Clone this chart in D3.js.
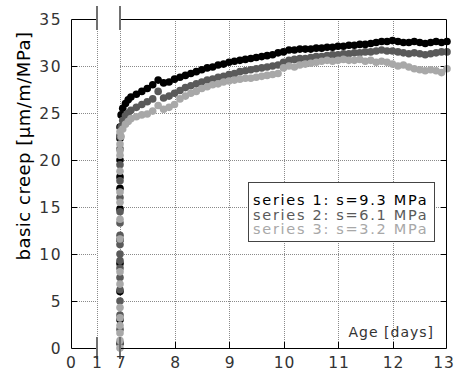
<!DOCTYPE html>
<html>
<head>
<meta charset="utf-8">
<script src="https://cdn.jsdelivr.net/npm/d3@7"></script>
<style>
  body { margin: 0; background: #fff; }
  svg text { font-family: "DejaVu Sans", Verdana, sans-serif; }
</style>
</head>
<body>
<svg id="chart" width="457" height="376"></svg>
<script>
// creep phase sampling (days)
var ageDays = [7.0, 7.02, 7.05, 7.1, 7.15, 7.2, 7.3, 7.4, 7.5, 7.6, 7.7, 7.8, 7.9,
  8.0, 8.1, 8.2, 8.3, 8.4, 8.5, 8.6, 8.7, 8.8, 8.9,
  9.0, 9.1, 9.2, 9.3, 9.4, 9.5, 9.6, 9.7, 9.8, 9.9,
  10.0, 10.1, 10.2, 10.3, 10.4, 10.5, 10.6, 10.7, 10.8, 10.9,
  11.0, 11.1, 11.2, 11.3, 11.4, 11.5, 11.6, 11.7, 11.8, 11.9,
  12.0, 12.1, 12.2, 12.3, 12.4, 12.5, 12.6, 12.7, 12.8, 12.9, 13.0];

var series1 = [23.5, 24.8, 25.5, 26.0, 26.4, 26.7, 27.0, 27.3, 27.6, 28.0, 28.5, 28.2, 28.3,
  28.6, 28.8, 29.0, 29.2, 29.4, 29.6, 29.8, 29.9, 30.1, 30.2,
  30.4, 30.5, 30.6, 30.7, 30.8, 30.9, 31.0, 31.1, 31.2, 31.4,
  31.5, 31.7, 31.7, 31.8, 31.8, 31.8, 31.9, 31.9, 32.0, 32.0,
  32.1, 32.1, 32.2, 32.2, 32.3, 32.3, 32.4, 32.5, 32.6, 32.6,
  32.7, 32.6, 32.5, 32.5, 32.6, 32.5, 32.4, 32.5, 32.6, 32.5, 32.6];

var series2 = [22.5, 23.5, 24.2, 24.7, 25.0, 25.3, 25.6, 25.9, 26.2, 26.5, 27.3, 26.6, 26.8,
  27.1, 27.4, 27.7, 27.9, 28.1, 28.3, 28.5, 28.6, 28.8, 28.9,
  29.1, 29.2, 29.4, 29.5, 29.6, 29.7, 29.8, 29.9, 30.0, 30.1,
  30.4, 30.6, 30.7, 30.8, 30.8, 30.9, 31.0, 31.0, 31.1, 31.2,
  31.2, 31.3, 31.3, 31.4, 31.4, 31.5, 31.5, 31.6, 31.7, 31.6,
  31.6, 31.5, 31.4, 31.3, 31.4, 31.3, 31.2, 31.3, 31.4, 31.5, 31.5];

var series3 = [21.0, 22.5, 23.3, 23.8, 24.1, 24.4, 24.6, 24.8, 24.9, 25.2, 25.8, 25.4, 25.6,
  25.9, 26.5, 26.8, 27.1, 27.3, 27.6, 27.8, 28.0, 28.1, 28.3,
  28.4, 28.5, 28.6, 28.7, 28.7, 28.8, 28.9, 29.0, 29.1, 29.2,
  29.8, 30.0, 29.9, 30.1, 30.2, 30.3, 30.4, 30.5, 30.6, 30.5,
  30.6, 30.7, 30.6, 30.6, 30.7, 30.5, 30.6, 30.4, 30.5, 30.4,
  30.2, 30.0, 30.1, 29.9, 29.7, 29.6, 29.5, 29.6, 29.5, 29.3, 29.7];

// loading phase, all at age 7 days
var loadAge = 7.0;
var load1 = [0.5, 3, 6, 9, 11.5, 14.8, 17, 18.2, 20, 22.3];
var load2 = [0.5, 2, 3.5, 5, 6.2, 7.5, 8.5, 9.3, 10, 11, 12, 13.3, 14.5, 16, 17.8, 19.5, 21.2, 22.6];
var load3 = [0, 0.8, 1.6, 2.4, 3.2, 4.3, 6.8, 8.1, 11.6, 13.7, 15.5, 16.6, 18.8, 20.5, 21.7, 23];

var seriesNames = ["series 1: s=9.3 MPa", "series 2: s=6.1 MPa", "series 3: s=3.2 MPa"];
var seriesColors = ["#000000", "#5a5a5a", "#a8a8a8"];

var yTicks = [0, 5, 10, 15, 20, 25, 30, 35];
var xTicksLeft = [0, 1];
var xTicksRight = [7, 8, 9, 10, 11, 12, 13];

var svg = d3.select("#chart");

var top_ = 19, bottom = 348;
var xLeft = d3.scaleLinear().domain([0, 1]).range([71, 97]);
var xRight = d3.scaleLinear().domain([7, 13]).range([120, 447]);
var y = d3.scaleLinear().domain([0, 35]).range([bottom, top_]);

var grid = svg.append("g").attr("class", "grid")
  .attr("stroke", "#8a8a8a").attr("stroke-width", 1).attr("stroke-dasharray", "1,1");

// horizontal grid, both panels
[[71, 97], [120, 447]].forEach(function (r) {
  grid.selectAll(null)
    .data(yTicks.filter(d => d > 0 && d < 35))
    .enter().append("line")
    .attr("x1", r[0]).attr("x2", r[1])
    .attr("y1", d => Math.round(y(d)) + 0.5).attr("y2", d => Math.round(y(d)) + 0.5);
});
// vertical grid
grid.append("line").attr("x1", 97.5).attr("x2", 97.5).attr("y1", top_).attr("y2", bottom);
grid.selectAll(null)
  .data(xTicksRight.filter(d => d < 13))
  .enter().append("line")
  .attr("x1", d => Math.round(xRight(d)) + 0.5).attr("x2", d => Math.round(xRight(d)) + 0.5)
  .attr("y1", top_).attr("y2", bottom);

// ticks (solid, inward)
var ticks = svg.append("g").attr("stroke", "#000").attr("stroke-width", 1);
ticks.selectAll(null).data(yTicks.filter(d => d > 0 && d < 35)).enter().append("line")
  .attr("x1", 71).attr("x2", 77)
  .attr("y1", d => Math.round(y(d)) + 0.5).attr("y2", d => Math.round(y(d)) + 0.5);
ticks.selectAll(null).data(yTicks.filter(d => d > 0 && d < 35)).enter().append("line")
  .attr("x1", 441).attr("x2", 447)
  .attr("y1", d => Math.round(y(d)) + 0.5).attr("y2", d => Math.round(y(d)) + 0.5);
ticks.selectAll(null).data(xTicksRight.filter(d => d > 7 && d < 13)).enter().append("line")
  .attr("x1", d => Math.round(xRight(d)) + 0.5).attr("x2", d => Math.round(xRight(d)) + 0.5)
  .attr("y1", bottom).attr("y2", bottom - 6);

// data points
var dots = svg.append("g");
[[series1, load1], [series2, load2], [series3, load3]].forEach(function (s, i) {
  var pts = s[1].map(v => [loadAge, v]).concat(ageDays.map((a, j) => [a, s[0][j]]));
  dots.selectAll(null).data(pts).enter().append("circle")
    .attr("cx", d => xRight(d[0]))
    .attr("cy", d => y(d[1]))
    .attr("r", 3.8)
    .attr("fill", seriesColors[i]);
});

// frame
var frame = svg.append("g").attr("stroke", "#000").attr("stroke-width", 1).attr("fill", "none");
frame.append("path").attr("d", "M97," + (top_ + 0.5) + "H71.5V" + (bottom + 0.5) + "H97");
frame.append("path").attr("d", "M120," + (top_ + 0.5) + "H446.5V" + (bottom + 0.5) + "H120");

// axis break marks
var brk = svg.append("g").attr("stroke", "#707070").attr("stroke-width", 2);
[97, 120].forEach(function (x) {
  brk.append("line").attr("x1", x).attr("x2", x).attr("y1", 6).attr("y2", 30);
  brk.append("line").attr("x1", x).attr("x2", x).attr("y1", 337).attr("y2", 359);
});

// tick labels
var lab = svg.append("g").attr("fill", "#333").attr("font-size", 15.5);
lab.selectAll(null).data(yTicks).enter().append("text")
  .attr("x", 62).attr("y", d => y(d) + 5.5).attr("letter-spacing", 1.5)
  .attr("text-anchor", "end").text(d => d);
lab.selectAll(null).data(xTicksLeft).enter().append("text")
  .attr("x", d => xLeft(d)).attr("y", 368)
  .attr("text-anchor", "middle").text(d => d);
lab.selectAll(null).data(xTicksRight).enter().append("text")
  .attr("x", d => Math.min(xRight(d) + 1, 444)).attr("y", 368)
  .attr("letter-spacing", 0.8)
  .attr("text-anchor", "middle").text(d => d);

// axis titles
svg.append("text").attr("x", 434).attr("y", 337).attr("text-anchor", "end")
  .attr("font-size", 14).attr("letter-spacing", 1).attr("fill", "#333").text("Age [days]");
svg.append("text").attr("transform", "translate(30,146) rotate(-90)")
  .attr("text-anchor", "middle").attr("font-size", 18).attr("letter-spacing", 0.5)
  .attr("fill", "#000")
  .text("basic creep [\u03bcm/m/MPa]");

// legend
var leg = svg.append("g");
leg.append("rect").attr("x", 248.5).attr("y", 182.5).attr("width", 186).attr("height", 59)
  .attr("fill", "#fff").attr("stroke", "#444");
leg.selectAll(null).data(seriesNames).enter().append("text")
  .attr("x", 253).attr("y", (d, i) => 205 + i * 14.5)
  .attr("font-size", 14.5).attr("letter-spacing", 1.7).attr("fill", (d, i) => seriesColors[i])
  .text(d => d);
</script>
</body>
</html>
